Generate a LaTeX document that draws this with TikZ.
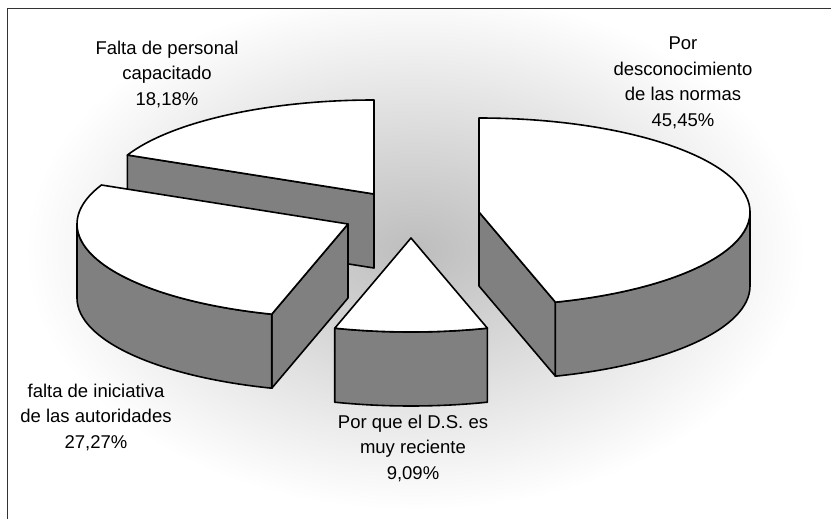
\documentclass[tikz,border=0pt]{standalone}
\usepackage{fontspec}
\setmainfont{Liberation Sans}
\usetikzlibrary{calc}
\definecolor{sidegray}{HTML}{808080}
\definecolor{framegray}{HTML}{333333}
\definecolor{bgmid}{HTML}{BDBDBD}
\tikzset{
  pietop/.style={fill=white, draw=black, line width=1.6pt, line join=round},
  pieside/.style={fill=sidegray, draw=black, line width=1.6pt, line join=round},
  lbl/.style={align=center, inner sep=0pt, font=\fontsize{18.5}{25.5}\selectfont},
  frameline/.style={draw=framegray, line width=1.8pt},
  ell/.style={x radius=271pt, y radius=94pt}
}
\begin{document}
\begin{tikzpicture}[x=1pt,y=1pt]
\useasboundingbox (0,0) rectangle (831,-519);
\fill[white] (0,0) rectangle (831,-519);
% background gradient
\begin{scope}
\clip (8,-9) rectangle (831,-519);
\shade[inner color=bgmid, outer color=white] (415,-250) ellipse [x radius=390pt, y radius=260pt];
\end{scope}
% frame
\draw[frameline] (831,-8.5) -- (7.5,-8.5) -- (7.5,-519);
% apexes
\coordinate (A1) at (374,-194);
\coordinate (A2) at (479,-212);
\coordinate (A3) at (348,-224);
\coordinate (A4) at (411,-238);
% ---- slice 18.18% (90 -> 155.49)
\coordinate (A1r) at ($(A1)+(155.49:271pt and 94pt)$);
\draw[pieside] (A1) -- (A1r) -- ++(0,-74) -- ($(A1)+(0,-74)$) -- cycle;
\draw[pietop] (A1) -- ++(0,94) arc[start angle=90, end angle=155.49, ell] -- cycle;
% ---- slice 45.45% (-73.62 -> 90)
\coordinate (A2r) at ($(A2)+(-73.62:271pt and 94pt)$);
\draw[pieside] (A2) -- (A2r) -- ++(0,-74) -- ($(A2)+(0,-74)$) -- cycle;
\draw[pieside] (A2r) arc[start angle=-73.62, end angle=0, ell] -- ++(0,-74) arc[start angle=0, end angle=-73.62, ell] -- cycle;
\draw[pietop] (A2) -- (A2r) arc[start angle=-73.62, end angle=90, ell] -- cycle;
% ---- slice 27.27% (155.49 -> 253.66)
\coordinate (A3l) at ($(A3)+(155.49:271pt and 94pt)$);
\coordinate (A3w) at ($(A3)+(-271,0)$);
\coordinate (A3r) at ($(A3)+(253.66:271pt and 94pt)$);
\draw[pieside] (A3) -- (A3r) -- ++(0,-74) -- ($(A3)+(0,-74)$) -- cycle;
\draw[pieside] (A3w) arc[start angle=180, end angle=253.66, ell] -- ++(0,-74) arc[start angle=253.66, end angle=180, ell] -- cycle;
\draw[pietop] (A3) -- (A3l) arc[start angle=155.49, end angle=253.66, ell] -- cycle;
% ---- slice 9.09% (253.66 -> 286.38)
\coordinate (A4l) at ($(A4)+(253.66:271pt and 94pt)$);
\draw[pieside] (A4l) arc[start angle=253.66, end angle=286.38, ell] -- ++(0,-74) arc[start angle=286.38, end angle=253.66, ell] -- cycle;
\draw[pietop] (A4) -- (A4l) arc[start angle=253.66, end angle=286.38, ell] -- cycle;
% labels
\node[lbl] (l18) at (167,-74) {Falta de personal\\capacitado\\18,18\%};
\node[lbl] (l45) at (683,-83) {Por\\desconocimiento\\de las normas\\45,45\%};
\node[lbl] (l27) at (96,-417) {falta de iniciativa\\de las autoridades\\27,27\%};
\node[lbl] (l09) at (413,-448) {Por que el D.S. es\\muy reciente\\9,09\%};
\end{tikzpicture}
\end{document}
